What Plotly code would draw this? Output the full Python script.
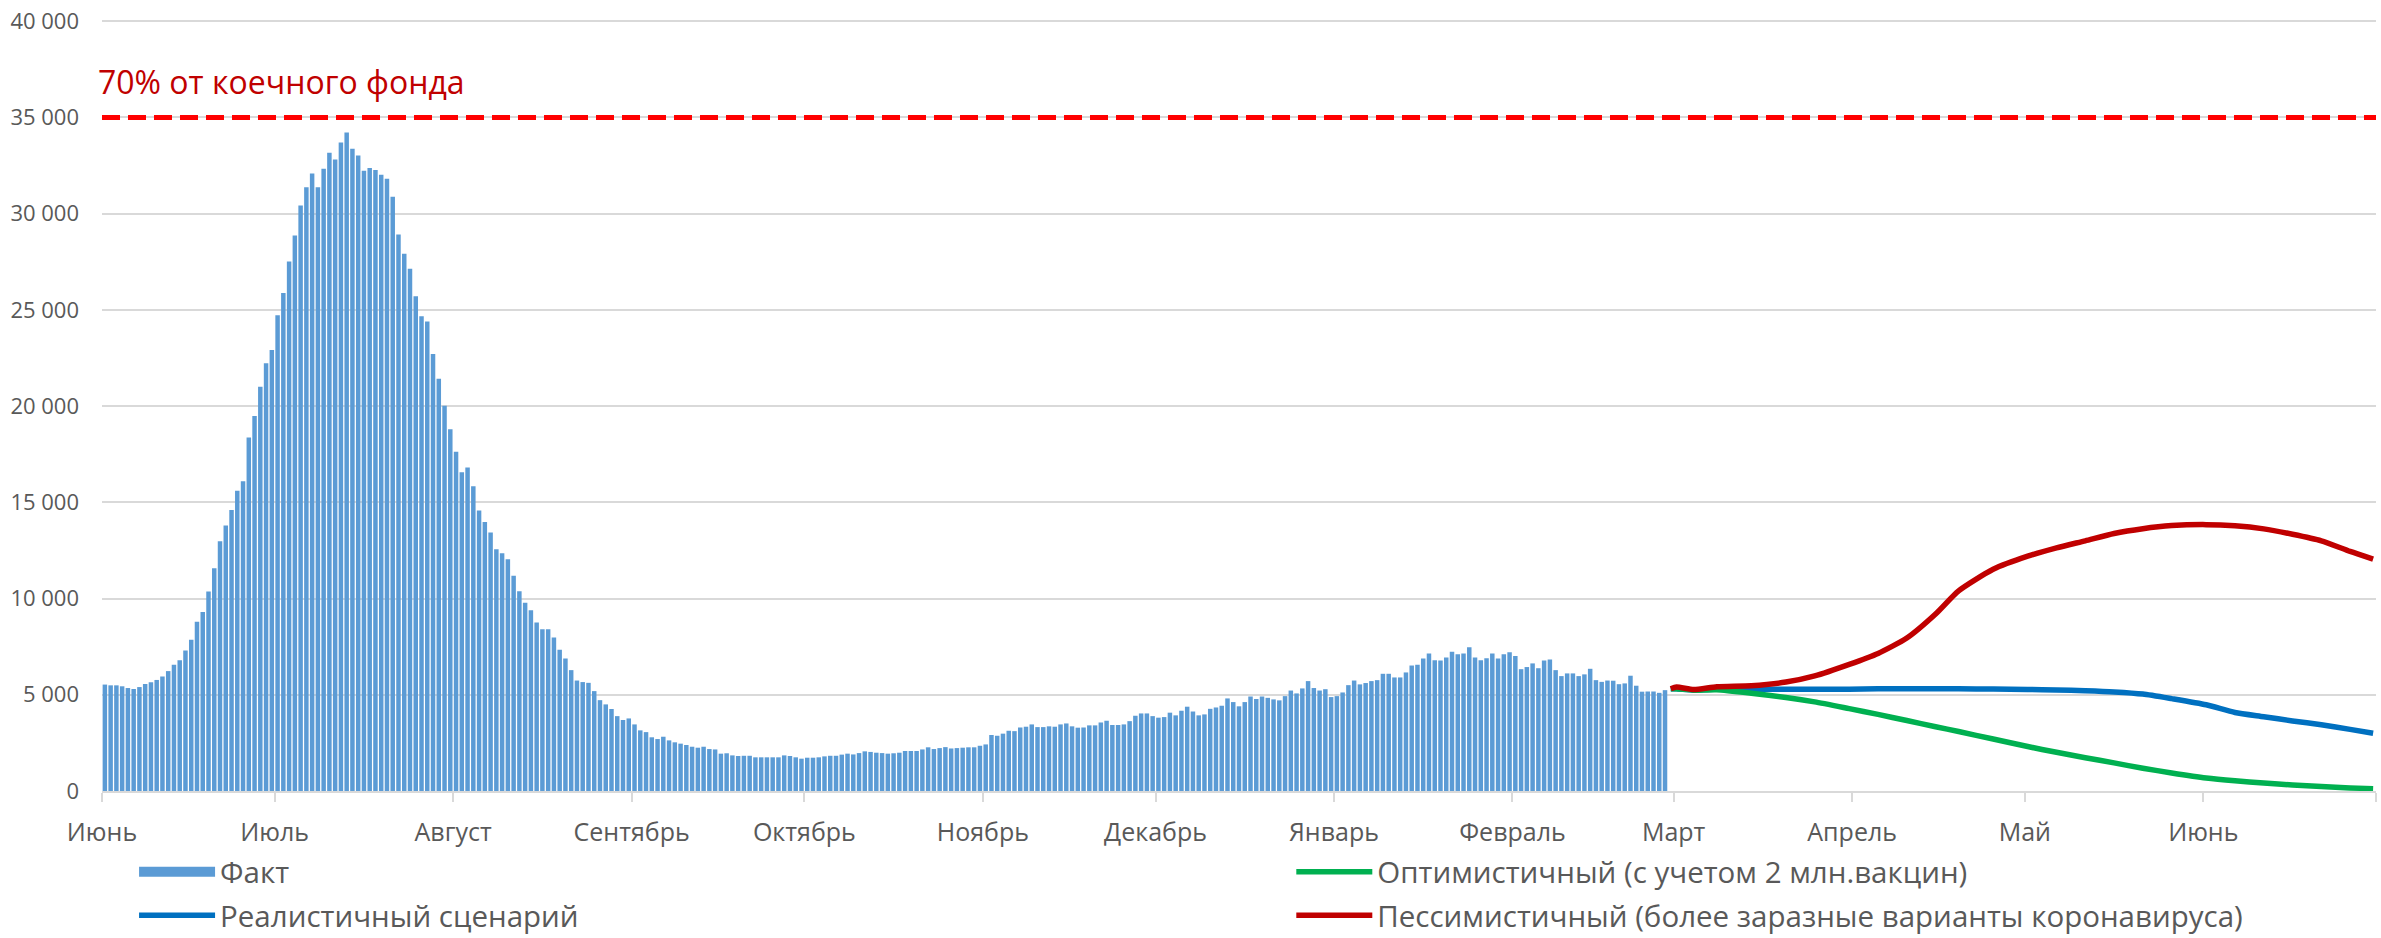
import pandas as pd
import plotly.graph_objects as go

# ---------------- data ----------------
FACT_START = "2020-06-01"
fact_june = [5530, 5490, 5490, 5440, 5350, 5300, 5400, 5560, 5650, 5770, 5950, 6230, 6560, 6790, 7300,
             7860, 8790, 9300, 10370, 11580, 12980, 13790, 14600, 15600, 16090, 18370, 19490, 21000, 22230, 22910]
fact_july = [24720, 25880, 27510, 28860, 30420, 31370, 32090, 31370, 32330, 33160, 32810, 33700, 34210, 33370,
             33020, 32230, 32370, 32260, 32020, 31810, 30880, 28910, 27910, 27140, 25700, 24670, 24400, 22700,
             21420, 20020, 18790]
fact_aug = [17630, 16560, 16810, 15840, 14580, 13980, 13430, 12560, 12350, 12040, 11180, 10380, 9780, 9390,
            8750, 8410, 8410, 7980, 7340, 6890, 6280, 5740, 5660, 5620, 5190, 4720, 4500, 4260, 3890, 3690, 3770]
fact_sep = [3460, 3150, 3060, 2790, 2700, 2820, 2630, 2530, 2460, 2390, 2300, 2250, 2300, 2180, 2160, 1940,
            1960, 1850, 1820, 1830, 1830, 1750, 1750, 1750, 1750, 1750, 1850, 1820, 1750, 1680]
fact_oct = [1730, 1730, 1750, 1800, 1830, 1830, 1890, 1940, 1900, 1970, 2060, 2030, 1990, 1970, 1940, 1960,
            1990, 2080, 2080, 2080, 2160, 2270, 2180, 2230, 2280, 2210, 2230, 2250, 2270, 2270, 2350]
fact_nov = [2420, 2910, 2870, 2980, 3130, 3110, 3300, 3340, 3460, 3320, 3320, 3360, 3340, 3460, 3510, 3360,
            3290, 3300, 3410, 3410, 3560, 3650, 3430, 3430, 3460, 3630, 3910, 4030, 4030, 3890]
fact_dec = [3810, 3840, 4070, 3930, 4170, 4380, 4130, 3930, 3980, 4270, 4340, 4430, 4810, 4620, 4400, 4620,
            4910, 4780, 4910, 4840, 4760, 4710, 4930, 5220, 5070, 5330, 5710, 5350, 5220, 5290, 4880]
fact_jan = [4930, 5120, 5500, 5740, 5540, 5610, 5710, 5760, 6090, 6090, 5900, 5900, 6160, 6520, 6560, 6890,
            7150, 6800, 6780, 6940, 7230, 7110, 7150, 7470, 6940, 6800, 6900, 7150, 6890, 7110, 7210]
fact_feb = [7010, 6330, 6440, 6630, 6380, 6780, 6830, 6280, 5970, 6110, 6110, 5970, 6060, 6350, 5760, 5670,
            5740, 5730, 5550, 5590, 5990, 5470, 5160, 5170, 5170, 5100, 5240]

forecast_dates = ["2021-02-28", "2021-03-01", "2021-03-04", "2021-03-08", "2021-03-14", "2021-03-20",
                  "2021-03-25", "2021-03-31", "2021-04-05", "2021-04-10", "2021-04-15", "2021-04-19",
                  "2021-04-25", "2021-05-01", "2021-05-06", "2021-05-11", "2021-05-16", "2021-05-21",
                  "2021-05-26", "2021-06-01", "2021-06-06", "2021-06-11", "2021-06-16", "2021-06-21",
                  "2021-06-26", "2021-06-30"]
optimistic = [5310, 5310, 5240, 5260, 5080, 4860, 4630, 4280, 3980, 3660, 3340, 3090, 2700, 2310, 2010,
              1730, 1460, 1180, 940, 680, 530, 410, 310, 230, 160, 120]
realistic = [5310, 5310, 5240, 5300, 5290, 5290, 5290, 5290, 5310, 5310, 5310, 5310, 5300, 5280, 5250,
             5210, 5150, 5040, 4800, 4480, 4080, 3860, 3640, 3440, 3200, 3000]
pessimistic = [5310, 5400, 5270, 5420, 5470, 5660, 5980, 6580, 7150, 7950, 9200, 10400, 11520, 12200,
               12630, 13000, 13380, 13630, 13790, 13840, 13780, 13620, 13340, 13000, 12450, 12050]

THRESHOLD = 35000
THRESHOLD_LABEL = "70% от коечного фонда"

month_ticks = ["2020-06-01", "2020-07-01", "2020-08-01", "2020-09-01", "2020-10-01", "2020-11-01",
               "2020-12-01", "2021-01-01", "2021-02-01", "2021-03-01", "2021-04-01", "2021-05-01",
               "2021-06-01", "2021-07-01"]
month_labels = ["Июнь", "Июль", "Август", "Сентябрь", "Октябрь", "Ноябрь", "Декабрь", "Январь",
                "Февраль", "Март", "Апрель", "Май", "Июнь", ""]
y_ticks = [0, 5000, 10000, 15000, 20000, 25000, 30000, 35000, 40000]

fact_values = fact_june + fact_july + fact_aug + fact_sep + fact_oct + fact_nov + fact_dec + fact_jan + fact_feb
fact_dates = pd.date_range(FACT_START, periods=len(fact_values), freq="D")

# ---------------- figure ----------------
FONT = "Open Sans"
GRAY = "#595959"
BAR_BLUE = "#5B9BD5"
DAY_MS = 86400000

fig = go.Figure()
fig.add_trace(go.Bar(x=fact_dates, y=fact_values, name="Факт", marker=dict(color=BAR_BLUE, line=dict(width=0)),
                     xperiod=DAY_MS, xperiodalignment="middle", showlegend=False))
# legend entry for the bars, drawn as a wide block like the original
fig.add_trace(go.Scatter(x=[None], y=[None], name="Факт", mode="lines", legendgroup="g1",
                         line=dict(color=BAR_BLUE, width=19), legend="legend", hoverinfo="skip"))
fig.add_trace(go.Scatter(x=pd.to_datetime(forecast_dates), y=realistic, name="Реалистичный сценарий",
                         mode="lines", line=dict(color="#0070C0", width=5.5, shape="spline", smoothing=0.6),
                         legendgroup="g2",
                         xperiod=DAY_MS, xperiodalignment="middle", legend="legend"))
fig.add_trace(go.Scatter(x=pd.to_datetime(forecast_dates), y=optimistic,
                         name="Оптимистичный (с учетом 2 млн.вакцин)", legendgroup="g3",
                         mode="lines", line=dict(color="#00B050", width=5.5, shape="spline", smoothing=0.6),
                         xperiod=DAY_MS, xperiodalignment="middle", legend="legend2"))
fig.add_trace(go.Scatter(x=pd.to_datetime(forecast_dates), y=pessimistic,
                         name="Пессимистичный (более заразные варианты коронавируса)", legendgroup="g4",
                         mode="lines", line=dict(color="#C00000", width=5.5, shape="spline", smoothing=0.6),
                         xperiod=DAY_MS, xperiodalignment="middle", legend="legend2"))

fig.add_shape(type="line", xref="paper", x0=0, x1=1, yref="y", y0=THRESHOLD, y1=THRESHOLD,
              line=dict(color="#FF0000", width=5, dash="18px,8px"), layer="above")
fig.add_annotation(text=THRESHOLD_LABEL, xref="paper", x=0, xanchor="left", xshift=-6,
                   yref="y", y=THRESHOLD, yanchor="bottom", yshift=12, showarrow=False,
                   font=dict(family=FONT, size=32, color="#C00000"))

legend_common = dict(orientation="v", font=dict(family=FONT, size=29.5, color=GRAY), itemwidth=76,
                     bgcolor="rgba(0,0,0,0)", yanchor="top", xanchor="left", tracegroupgap=2)
fig.update_layout(
    width=2381, height=938,
    margin=dict(l=102, r=5, t=20, b=147, autoexpand=False),
    plot_bgcolor="white", paper_bgcolor="white",
    separators=", ",
    bargap=0.22,
    font=dict(family=FONT, color=GRAY),
    showlegend=True,
    legend=dict(x=0.0141, y=-0.0715, **legend_common),
    legend2=dict(x=0.523, y=-0.0715, **legend_common),
    xaxis=dict(type="date", range=["2020-06-01", "2021-07-01"], tickmode="array", tickvals=month_ticks,
               ticktext=month_labels, ticks="outside", ticklen=9, tickwidth=2, tickcolor="#D9D9D9",
               showline=True, linecolor="#D9D9D9", linewidth=2, showgrid=False, zeroline=False,
               tickfont=dict(family=FONT, size=25, color=GRAY), ticklabelstandoff=9, automargin=False),
    yaxis=dict(range=[0, 40060], tickmode="array", tickvals=y_ticks, tickformat=",d",
               showgrid=True, gridcolor="#D9D9D9", gridwidth=1.5, zeroline=False, showline=False,
               tickfont=dict(family=FONT, size=22, color=GRAY), ticklabelstandoff=22, automargin=False,
               ticklabeloverflow="allow"),
)

fig.write_html("out.html", config={"displayModeBar": False},
               post_script="document.body.style.margin='0';document.body.style.padding='0';")
